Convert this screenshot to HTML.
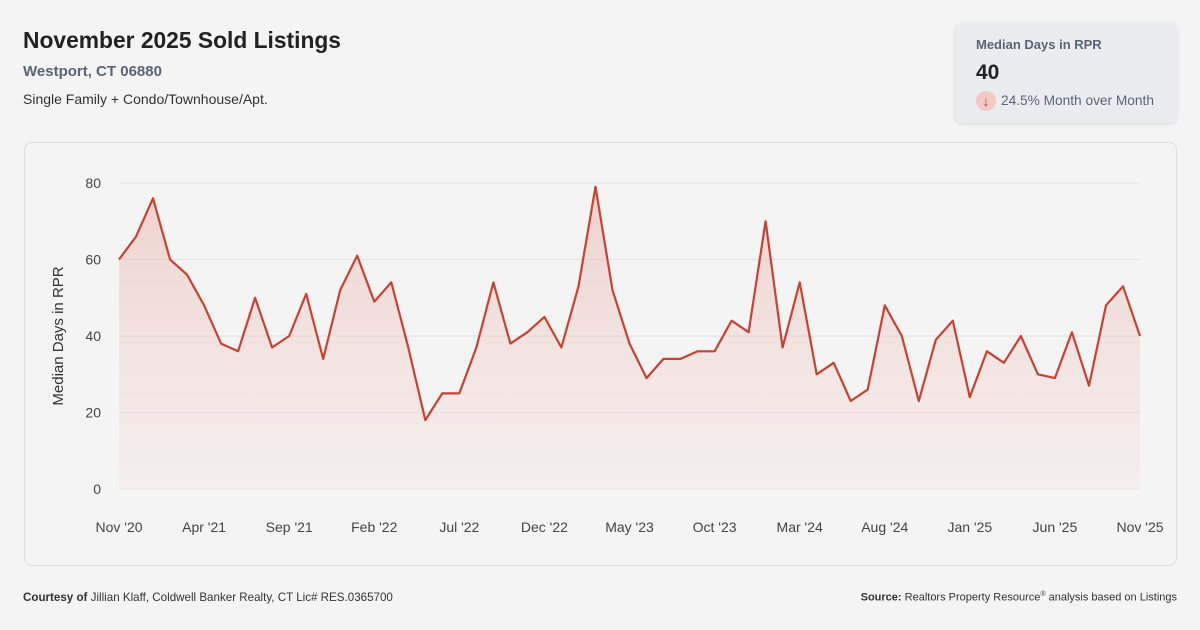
<!DOCTYPE html>
<html><head><meta charset="utf-8"><style>
body{margin:0;width:1200px;height:630px;background:#f4f4f4;font-family:"Liberation Sans",sans-serif;position:relative;overflow:hidden}
.abs{position:absolute;white-space:nowrap}
</style></head><body>
<div class="abs" style="left:23px;top:27px;font-size:22.8px;font-weight:bold;color:#222">November 2025 Sold Listings</div>
<div class="abs" style="left:23px;top:63px;font-size:15px;font-weight:bold;color:#5a6478">Westport, CT 06880</div>
<div class="abs" style="left:23px;top:91px;font-size:14px;color:#333">Single Family + Condo/Townhouse/Apt.</div>
<div class="abs" style="left:955px;top:23px;width:222px;height:100px;background:#ebecef;border-radius:6px;box-shadow:0 1px 3px rgba(0,0,0,0.12)">
  <div class="abs" style="left:21px;top:14px;font-size:13px;font-weight:bold;color:#5a6478">Median Days in RPR</div>
  <div class="abs" style="left:21px;top:38px;font-size:21px;font-weight:bold;color:#222">40</div>
  <div class="abs" style="left:21px;top:68px;width:20px;height:20px;border-radius:10px;background:#f3c9c4;color:#c0392b;font-size:14px;text-align:center;line-height:20px">↓</div>
  <div class="abs" style="left:46px;top:70px;font-size:13.7px;color:#5a6478">24.5% Month over Month</div>
</div>
<div class="abs" style="left:24px;top:142px;width:1151px;height:422px;border:1px solid #dcdcdc;border-radius:8px"></div>
<svg class="abs" style="left:0;top:0" width="1200" height="630">
<defs><linearGradient id="g" x1="0" y1="0" x2="0" y2="1"><stop offset="0" stop-color="#e8b4ac" stop-opacity="0.55"/><stop offset="1" stop-color="#f6dcd8" stop-opacity="0.25"/></linearGradient></defs>
<g id="grid"></g><path id="area" fill="url(#g)"/><path id="line" fill="none" stroke="#c9412f" stroke-width="2.2" stroke-linejoin="round"/><g id="xl"></g>
<text transform="translate(63,336) rotate(-90)" text-anchor="middle" font-size="15" fill="#333" font-family="Liberation Sans">Median Days in RPR</text>
</svg>
<div class="abs" style="left:23px;top:591px;font-size:11.6px;color:#333"><b>Courtesy of</b> Jillian Klaff, Coldwell Banker Realty, CT Lic# RES.0365700</div>
<div class="abs" style="right:23px;top:591px;font-size:11px;color:#333"><b>Source:</b> Realtors Property Resource<sup style="font-size:7px">®</sup> analysis based on Listings</div>
<script>
const values=[60,66,76,60,56,48,38,36,50,37,40,51,34,52,61,49,54,37,18,25,25,37,54,38,41,45,37,53,79,52,38,29,34,34,36,36,44,41,70,37,54,30,33,23,26,48,40,23,39,44,24,36,33,40,30,29,41,27,48,53,40];
const yTicks=[0,20,40,60,80];
const xLabels=["Nov '20","Apr '21","Sep '21","Feb '22","Jul '22","Dec '22","May '23","Oct '23","Mar '24","Aug '24","Jan '25","Jun '25","Nov '25"];
const NS="http://www.w3.org/2000/svg";
const x0=119,x1=1140,yb=489,yt=183;
const xs=i=>x0+(x1-x0)*i/(values.length-1);
const ys=v=>yb-(yb-yt)*v/80;
const grid=document.getElementById('grid');
yTicks.forEach(t=>{
 const l=document.createElementNS(NS,'line');
 
 
 l.setAttribute('x1',x0);l.setAttribute('x2',x1);l.setAttribute('y1',ys(t));l.setAttribute('y2',ys(t));
 l.setAttribute('stroke','#e2e2e2');grid.appendChild(l);
 const tx=document.createElementNS(NS,'text');
 
 
 tx.setAttribute('x',101);tx.setAttribute('y',ys(t)+5);tx.setAttribute('text-anchor','end');
 tx.setAttribute('font-size','14');tx.setAttribute('fill','#444');tx.setAttribute('font-family','Liberation Sans');
 tx.textContent=t;grid.appendChild(tx);
});
let d='';values.forEach((v,i)=>{d+=(i?'L':'M')+xs(i).toFixed(1)+','+ys(v).toFixed(1);});
document.getElementById('line').setAttribute('d',d);
document.getElementById('area').setAttribute('d',d+'L'+xs(values.length-1)+','+yb+'L'+x0+','+yb+'Z');
const xl=document.getElementById('xl');
xLabels.forEach((s,k)=>{
 const tx=document.createElementNS(NS,'text');
 
 
 tx.setAttribute('x',xs(k*5));tx.setAttribute('y',532);tx.setAttribute('text-anchor','middle');
 tx.setAttribute('font-size','14');tx.setAttribute('fill','#444');tx.setAttribute('font-family','Liberation Sans');
 tx.textContent=s;xl.appendChild(tx);
});
</script>
</body></html>
